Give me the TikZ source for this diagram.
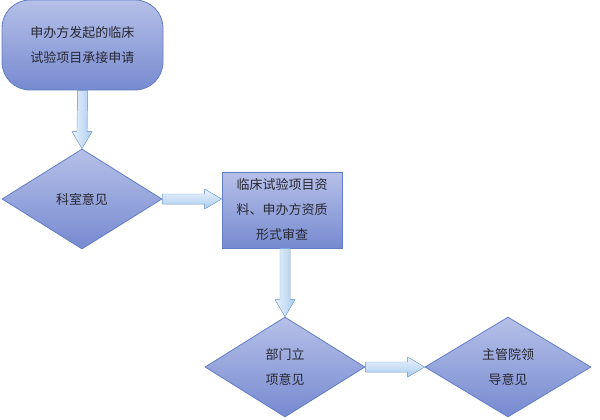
\documentclass[tikz,border=0pt]{standalone}
\usepackage{fontspec}
\setmainfont{Noto Sans CJK SC}
\usetikzlibrary{shapes.geometric,calc}
\definecolor{boxtop}{RGB}{182,192,232}
\definecolor{boxbot}{RGB}{118,138,208}
\definecolor{boxline}{RGB}{98,126,198}
\definecolor{arrline}{RGB}{120,170,225}
\definecolor{arrtop}{RGB}{235,242,252}
\definecolor{arrbot}{RGB}{170,205,240}
\definecolor{txt}{RGB}{40,40,50}

\newcommand{\downarrowblock}[2]{%
  \filldraw[arrowblock] ($(#1)+(-5pt,0)$) -- ($(#2)+(-5pt,17pt)$) -- ($(#2)+(-10pt,17pt)$)
    -- (#2) -- ($(#2)+(10pt,17pt)$) -- ($(#2)+(5pt,17pt)$) -- ($(#1)+(5pt,0)$) -- cycle;}
\newcommand{\rightarrowblock}[2]{%
  \filldraw[arrowblockh] ($(#1)+(0,5pt)$) -- ($(#2)+(-17pt,5pt)$) -- ($(#2)+(-17pt,10pt)$)
    -- (#2) -- ($(#2)+(-17pt,-10pt)$) -- ($(#2)+(-17pt,-5pt)$) -- ($(#1)+(0,-5pt)$) -- cycle;}

\begin{document}
\begin{tikzpicture}[x=1pt,y=-1pt]
\tikzset{
  base/.style={draw=boxline, thick, top color=boxtop, bottom color=boxbot, text=txt,
    font=\fontsize{13pt}{25pt}\selectfont, align=center, inner sep=0pt},
  startbox/.style={base, rectangle, rounded corners=28pt, minimum width=161pt, minimum height=90pt},
  decision/.style={base, diamond, minimum width=160pt, minimum height=100pt},
  processbox/.style={base, rectangle, minimum width=120pt, minimum height=76pt},
  arrowblock/.style={draw=arrline, left color=arrtop, right color=arrbot, thin},
  arrowblockh/.style={draw=arrline, top color=arrtop, bottom color=arrbot, thin}
}
\useasboundingbox (0,0) rectangle (600,420);

\node[startbox] (S0) at (82.5,45) {申办方发起的临床\\试验项目承接申请};
\node[decision] (D1) at (82,199) {科室意见};
\node[processbox] (P1) at (282,210) {临床试验项目资\\料、申办方资质\\形式审查};
\node[decision] (D2) at (285,367) {部门立\\项意见};
\node[decision, minimum width=166pt] (D3) at (508,367) {主管院领\\导意见};

\downarrowblock{S0.south}{D1.north}
\rightarrowblock{D1.east}{P1.west |- D1.east}
\downarrowblock{P1.south -| D2.north}{D2.north}
\rightarrowblock{D2.east}{D3.west}
\end{tikzpicture}
\end{document}
